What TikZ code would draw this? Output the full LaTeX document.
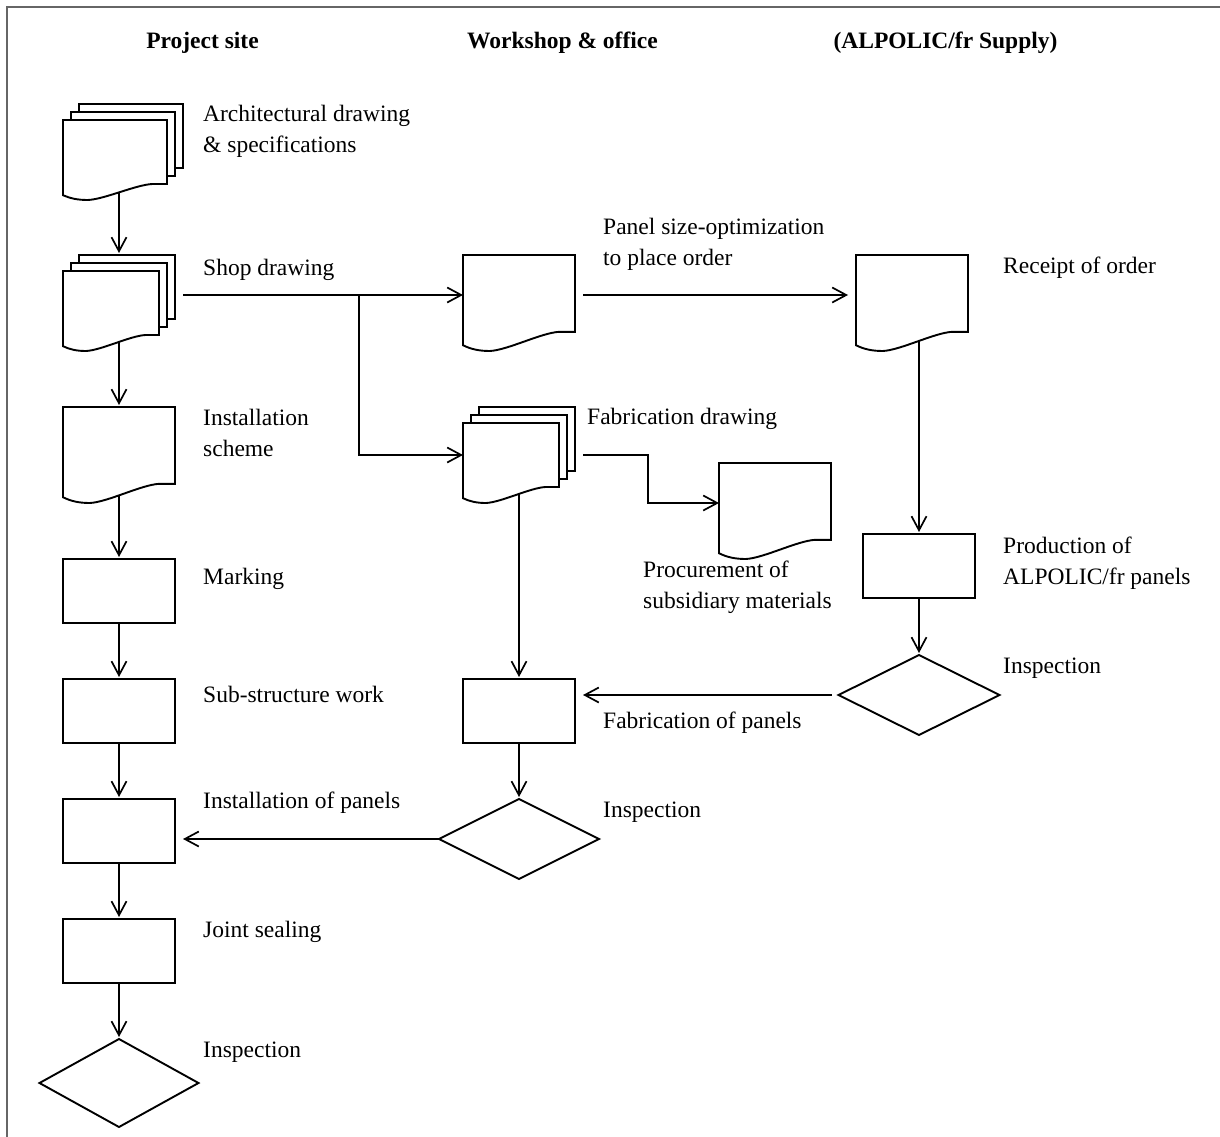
\documentclass[tikz,border=0pt]{standalone}
\usepackage{fontspec}
\setmainfont{Liberation Serif}
\usetikzlibrary{arrows.meta,shapes.geometric,backgrounds}
\newcommand\lblfont{\fontsize{23.5pt}{31pt}\selectfont}
\newcommand\twol[2]{\begin{tabular}[t]{@{}l@{}}#1\\#2\end{tabular}}
\tikzset{
  shp/.style={draw, line width=1.9pt, fill=white, line join=miter},
  docbox/.style={inner sep=0pt, outer sep=0pt, draw=none},
  procbox/.style={draw, line width=1.9pt, fill=white, minimum width=112pt, minimum height=64pt, inner sep=0pt, outer sep=0pt},
  decbox/.style={diamond, draw, line width=1.9pt, fill=white, inner sep=0pt, outer sep=0pt},
  arr/.style={line width=1.7pt, -{Straight Barb[length=14pt,width=15pt]}},
  plainline/.style={line width=1.7pt},
  lbl/.style={anchor=base west, inner sep=0pt, font=\lblfont},
  hdr/.style={anchor=base, inner sep=0pt, font=\lblfont\bfseries},
  frameline/.style={draw=black!60, line width=2pt}
}
\newcommand\docshape[4]{%
  \draw[shp] ({#1},{#2}) -- ({#3},{#2}) -- ({#3},{(#2)+0.8*((#4)-(#2))})
    -- ({(#1)+0.86*((#3)-(#1))},{(#2)+0.8*((#4)-(#2))})
    .. controls ({(#1)+0.70*((#3)-(#1))},{(#2)+0.81*((#4)-(#2))}) and ({(#1)+0.40*((#3)-(#1))},{(#2)+0.99*((#4)-(#2))})
    .. ({(#1)+0.24*((#3)-(#1))},{#4})
    .. controls ({(#1)+0.14*((#3)-(#1))},{#4}) and ({(#1)+0.07*((#3)-(#1))},{(#2)+0.98*((#4)-(#2))})
    .. ({#1},{(#2)+0.94*((#4)-(#2))}) -- cycle;}
\newcommand\docnode[5]{%
  \node[docbox, minimum width={((#4)-(#2))*1pt}, minimum height={((#5)-(#3))*1pt}] (#1) at ({((#2)+(#4))/2},{((#3)+(#5))/2}) {};
  \docshape{#2}{#3}{#4}{#5}}
\newcommand\stacknode[5]{%
  \node[docbox, minimum width={((#4)-(#2))*1pt}, minimum height={((#5)-(#3))*1pt}] (#1) at ({((#2)+(#4))/2},{((#3)+(#5))/2}) {};
  \draw[shp] ({(#2)+16},{#3}) rectangle ({#4},{(#3)+64});
  \draw[shp] ({(#2)+8},{(#3)+8}) rectangle ({(#4)-8},{(#3)+72});
  \docshape{#2}{(#3)+16}{(#4)-16}{#5}}
\begin{document}
\begin{tikzpicture}[x=1pt,y=-1pt]
\useasboundingbox (0,0) rectangle (1220,1137);
\draw[frameline] (7,1137) -- (7,7) -- (1220,7);

% headers
\node[hdr] (h1) at (202.5,49) {Project site};
\node[hdr] (h2) at (562.5,49) {Workshop \& office};
\node[hdr] (h3) at (945.5,49) {(ALPOLIC/fr Supply)};

% column 1
\stacknode{arch}{63}{104}{183}{200}
\stacknode{shop}{63}{255}{175}{351}
\docnode{inst}{63}{407}{175}{503}
\node[procbox] (mark) at (119,591) {};
\node[procbox] (sub) at (119,711) {};
\node[procbox] (instp) at (119,831) {};
\node[procbox] (joint) at (119,951) {};
\node[decbox, minimum width=159pt, minimum height=88pt] (insp1) at (119,1083) {};

% column 2
\docnode{pso}{463}{255}{575}{351}
\stacknode{fab}{463}{407}{575}{503}
\docnode{proc}{719}{463}{831}{559}
\node[procbox] (fabp) at (519,711) {};
\node[decbox, minimum width=160pt, minimum height=80pt] (insp2) at (519,839) {};

% column 3
\docnode{rec}{856}{255}{968}{351}
\node[procbox] (prod) at (919,566) {};
\node[decbox, minimum width=161pt, minimum height=80pt] (insp3) at (919,695) {};

\coordinate (j1) at (359,295);

% connectors (behind the white-filled shapes)
\begin{scope}[on background layer]
\fill[white] (0,0) rectangle (1220,1137);
\draw[arr, shorten >=2pt] (shop.north |- arch.center) -- (shop.north);
\draw[arr, shorten >=2pt] (shop.center) -- (inst.north);
\draw[arr, shorten >=2pt] (inst.center) -- (mark.north);
\draw[arr, shorten >=2pt] (mark.south) -- (sub.north);
\draw[arr, shorten >=2pt] (sub.south) -- (instp.north);
\draw[arr, shorten >=2pt] (instp.south) -- (joint.north);
\draw[arr, shorten >=2pt] (joint.south) -- (insp1.north);
\draw[plainline, shorten <=8pt] (shop.east |- j1) -- (j1);
\draw[arr] (j1) -- (pso.west |- j1);
\draw[arr] (j1) |- (fab.west);
\draw[arr, shorten <=8pt, shorten >=8pt] (pso.east |- j1) -- (rec.west |- j1);
\draw[arr, shorten <=8pt] (fab.east) -- ++(73,0) |- ([yshift=8pt]proc.west);
\draw[arr, shorten >=2pt] (fabp.north |- fab.center) -- (fabp.north);
\draw[arr, shorten >=2pt] (fabp.south) -- (insp2.north);
\draw[arr, shorten >=8pt] (insp2.west) -- (instp.east |- insp2.west);
\draw[arr, shorten >=2pt] (prod.north |- rec.center) -- (prod.north);
\draw[arr, shorten >=2pt] (prod.south) -- (insp3.north);
\draw[arr, shorten <=7pt, shorten >=8pt] (insp3.west) -- (fabp.east |- insp3.west);
\end{scope}

% labels
\node[lbl] (t1) at (203,122) {\twol{Architectural drawing}{\& specifications}};
\node[lbl] (t2) at (203,275) {Shop drawing};
\node[lbl] (t3) at (203,425) {\twol{Installation}{scheme}};
\node[lbl] (t4) at (203,584) {Marking};
\node[lbl] (t5) at (203,702) {Sub-structure work};
\node[lbl] (t6) at (203,808) {Installation of panels};
\node[lbl] (t7) at (203,937) {Joint sealing};
\node[lbl] (t8) at (203,1057) {Inspection};
\node[lbl] (t9) at (603,234) {\twol{Panel size-optimization}{to place order}};
\node[lbl] (t10) at (587,424) {Fabrication drawing};
\node[lbl] (t11) at (643,577) {\twol{Procurement of}{subsidiary materials}};
\node[lbl] (t12) at (603,728) {Fabrication of panels};
\node[lbl] (t13) at (603,817) {Inspection};
\node[lbl] (t14) at (1003,273) {Receipt of order};
\node[lbl] (t15) at (1003,553) {\twol{Production of}{ALPOLIC/fr panels}};
\node[lbl] (t16) at (1003,673) {Inspection};
\end{tikzpicture}
\end{document}
